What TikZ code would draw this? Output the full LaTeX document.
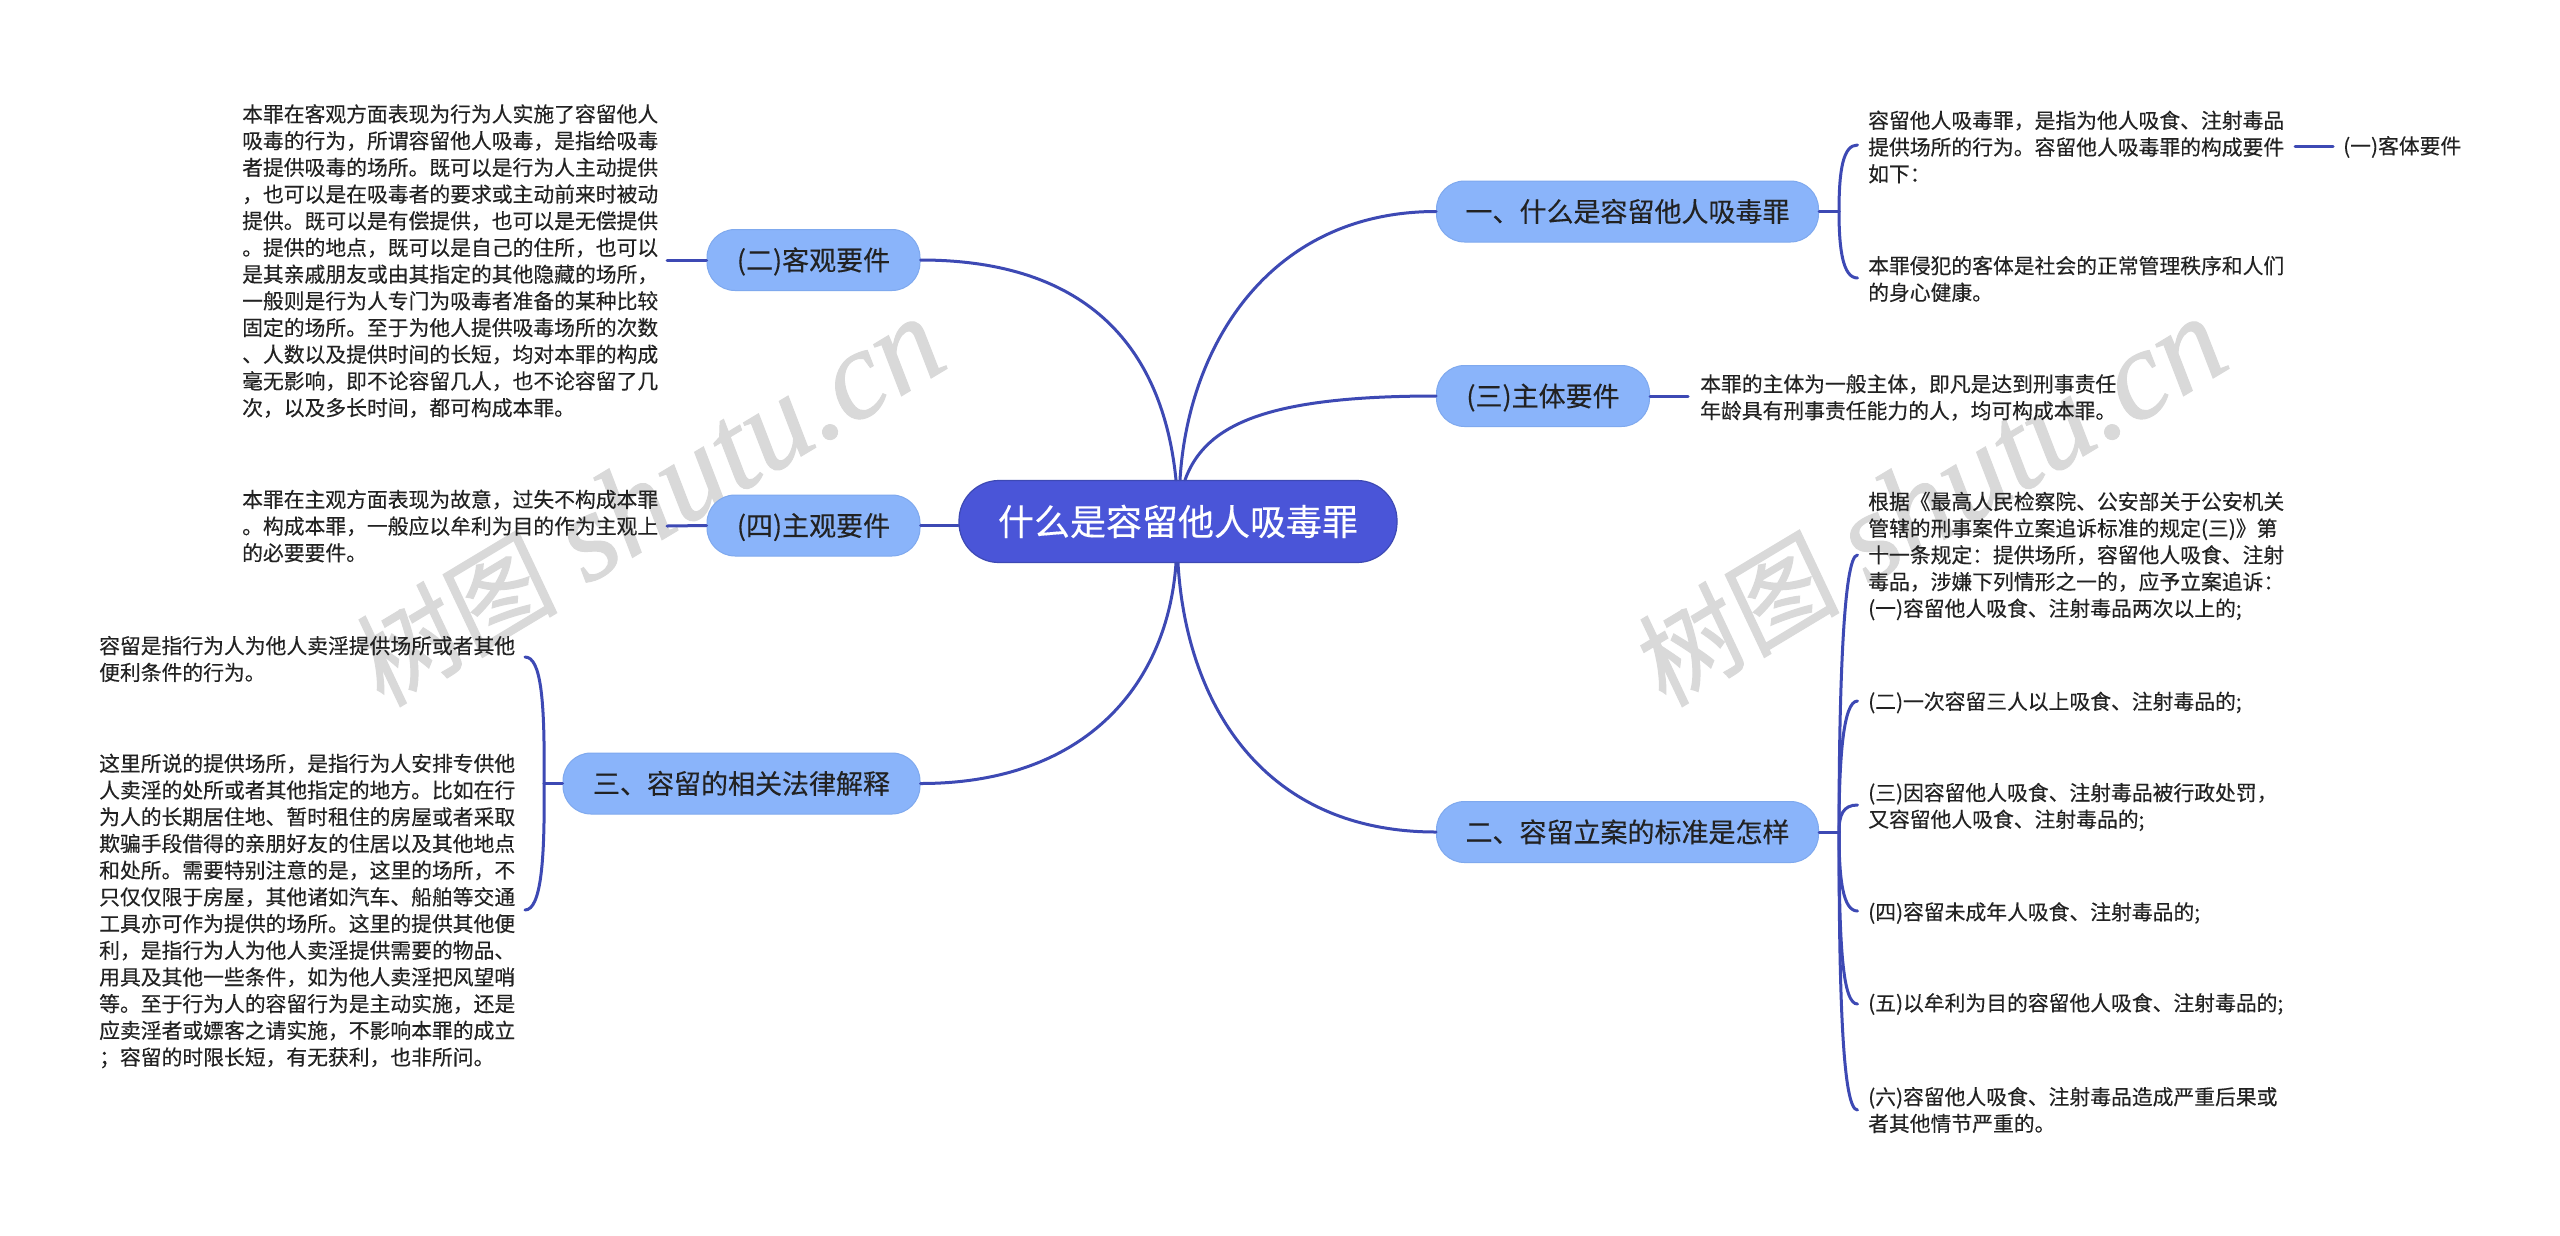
\documentclass[tikz,border=0pt]{standalone}
\usepackage{fontspec}
\newfontfamily\cjk[FakeBold=0.25]{Noto Sans CJK SC}
\newfontfamily\wmcjk[FakeSlant=0.1,FakeBold=1.2]{Noto Sans CJK SC}
\newfontfamily\wmlat[FakeBold=0.8]{Liberation Serif}
\definecolor{linec}{HTML}{3D49B4}
\definecolor{rootc}{HTML}{4A55D8}
\definecolor{branchc}{HTML}{8AB4FA}
\definecolor{branchb}{HTML}{7FA9EE}
\definecolor{textc}{HTML}{222222}
\definecolor{wmc}{HTML}{D9D9D9}
\newcommand{\wmtext}{{\wmcjk\fontsize{104}{106}\selectfont 树图}\hspace{30pt}{\wmlat\itshape\fontsize{127}{130}\selectfont shutu.cn}}
\tikzset{
  x=1pt,y=-1pt,
  conn/.style={draw=linec,line width=3pt,line cap=round},
  rootbox/.style={rounded corners=40pt,fill=rootc,draw=linec,line width=1.2pt,minimum height=82pt,minimum width=438pt,inner sep=0pt,text=white,text height=32pt,text depth=4.6pt,font=\cjk\fontsize{36}{40}\selectfont},
  branch/.style={rounded corners=28pt,fill=branchc,draw=branchb,line width=1pt,minimum height=61pt,inner sep=0pt,text=textc,text height=24pt,text depth=3.5pt,font=\cjk\fontsize{27}{30}\selectfont},
  para/.style={anchor=west,inner sep=0pt,align=left,text=textc,font=\cjk\fontsize{20.8}{26.7}\selectfont},
  wm/.style={text=wmc,rotate=31,inner sep=0pt,anchor=base west}
}
\begin{document}
\begin{tikzpicture}
\useasboundingbox (0,0) rectangle (2560,1235);
\fill[white] (0,0) rectangle (2560,1235);
% watermarks
\node[wm] (wma) at (382,708) {\wmtext};
\node[wm] (wmb) at (1664,708) {\wmtext};
% branch nodes
\node[rootbox] (root) at (1178,521.5) {什么是容留他人吸毒罪};
\node[branch,minimum width=213pt] (n2) at (813.5,260) {(二)客观要件};
\node[branch,minimum width=213pt] (n4) at (813.5,525.5) {(四)主观要件};
\node[branch,minimum width=357pt] (n3) at (741.5,783.5) {三、容留的相关法律解释};
\node[branch,minimum width=382pt] (b1) at (1627.5,211.5) {一、什么是容留他人吸毒罪};
\node[branch,minimum width=213pt] (b3) at (1543,396) {(三)主体要件};
\node[branch,minimum width=382pt] (b2) at (1627.5,832) {二、容留立案的标准是怎样};
% text nodes
\node[para] (t2) at (242,261) {本罪在客观方面表现为行为人实施了容留他人\\吸毒的行为，所谓容留他人吸毒，是指给吸毒\\者提供吸毒的场所。既可以是行为人主动提供\\，也可以是在吸毒者的要求或主动前来时被动\\提供。既可以是有偿提供，也可以是无偿提供\\。提供的地点，既可以是自己的住所，也可以\\是其亲戚朋友或由其指定的其他隐藏的场所，\\一般则是行为人专门为吸毒者准备的某种比较\\固定的场所。至于为他人提供吸毒场所的次数\\、人数以及提供时间的长短，均对本罪的构成\\毫无影响，即不论容留几人，也不论容留了几\\次，以及多长时间，都可构成本罪。};
\node[para] (t4) at (242,526) {本罪在主观方面表现为故意，过失不构成本罪\\。构成本罪，一般应以牟利为目的作为主观上\\的必要要件。};
\node[para] (t3a) at (99,659) {容留是指行为人为他人卖淫提供场所或者其他\\便利条件的行为。};
\node[para] (t3b) at (99,911) {这里所说的提供场所，是指行为人安排专供他\\人卖淫的处所或者其他指定的地方。比如在行\\为人的长期居住地、暂时租住的房屋或者采取\\欺骗手段借得的亲朋好友的住居以及其他地点\\和处所。需要特别注意的是，这里的场所，不\\只仅仅限于房屋，其他诸如汽车、船舶等交通\\工具亦可作为提供的场所。这里的提供其他便\\利，是指行为人为他人卖淫提供需要的物品、\\用具及其他一些条件，如为他人卖淫把风望哨\\等。至于行为人的容留行为是主动实施，还是\\应卖淫者或嫖客之请实施，不影响本罪的成立\\；容留的时限长短，有无获利，也非所问。};
\node[para] (r1a) at (1868,147) {容留他人吸毒罪，是指为他人吸食、注射毒品\\提供场所的行为。容留他人吸毒罪的构成要件\\如下：};
\node[para] (r1b) at (1868,279) {本罪侵犯的客体是社会的正常管理秩序和人们\\的身心健康。};
\node[para] (r1c) at (2343,147) {(一)客体要件};
\node[para] (r3) at (1700,397.5) {本罪的主体为一般主体，即凡是达到刑事责任\\年龄具有刑事责任能力的人，均可构成本罪。};
\node[para] (s1) at (1868,556) {根据《最高人民检察院、公安部关于公安机关\\管辖的刑事案件立案追诉标准的规定(三)》第\\十一条规定：提供场所，容留他人吸食、注射\\毒品，涉嫌下列情形之一的，应予立案追诉：\\(一)容留他人吸食、注射毒品两次以上的;};
\node[para] (s2) at (1868,702.5) {(二)一次容留三人以上吸食、注射毒品的;};
\node[para] (s3) at (1868,807) {(三)因容留他人吸食、注射毒品被行政处罚，\\又容留他人吸食、注射毒品的;};
\node[para] (s4) at (1868,913) {(四)容留未成年人吸食、注射毒品的;};
\node[para] (s5) at (1868,1004) {(五)以牟利为目的容留他人吸食、注射毒品的;};
\node[para] (s6) at (1868,1110) {(六)容留他人吸食、注射毒品造成严重后果或\\者其他情节严重的。};
% free ends of the brackets
\coordinate (e2) at (667,260);
\coordinate (e4) at (667,526);
\coordinate (l3) at (544,783.5);
\coordinate (l3a) at (525,657);
\coordinate (l3b) at (525,910);
\coordinate (r1) at (1839,211.5);
\coordinate (r1e) at (1857.5,145);
\coordinate (r1f) at (1857.5,278);
\coordinate (e3) at (1688,396);
\coordinate (c1a) at (2295,146);
\coordinate (c1b) at (2333,146);
\coordinate (r2) at (1839,832);
\coordinate (s1e) at (1857.5,555);
\coordinate (s2e) at (1857.5,701);
\coordinate (s3e) at (1857.5,805);
\coordinate (s4e) at (1857.5,911);
\coordinate (s5e) at (1857.5,1004);
\coordinate (s6e) at (1857.5,1110);
% connectors
\draw[conn] (n2.west) -- (e2);
\draw[conn] (b3.east) -- (e3);
\draw[conn] (c1a) -- (c1b);
\draw[conn] (root.west |- n4) -- (n4.east);
\draw[conn] (n4.west) -- (e4);
\draw[conn] (n3.west) -- (l3);
\draw[conn] (l3) .. controls (545,700) and (541,657) .. (l3a);
\draw[conn] (l3) .. controls (545,860) and (541,910) .. (l3b);
\draw[conn] (b1.east) -- (r1);
\draw[conn] (r1) .. controls (1839,170) and (1843,145) .. (r1e);
\draw[conn] (r1) .. controls (1839,250) and (1843,278) .. (r1f);
\draw[conn] (b2.east) -- (r2);
\draw[conn] (r2) .. controls (1839,700) and (1843,555) .. (s1e);
\draw[conn] (r2) .. controls (1839,760) and (1843,701) .. (s2e);
\draw[conn] (r2) .. controls (1839,815) and (1843,805) .. (s3e);
\draw[conn] (r2) .. controls (1839,880) and (1843,911) .. (s4e);
\draw[conn] (r2) .. controls (1839,950) and (1843,1004) .. (s5e);
\draw[conn] (r2) .. controls (1839,1000) and (1843,1110) .. (s6e);
\draw[conn] ([xshift=-2pt]root.north) .. controls (1163,350) and (1090,260) .. (n2.east);
\draw[conn] ([xshift=2pt]root.north) .. controls (1188,345) and (1270,211.5) .. (b1.west);
\draw[conn] ([xshift=7pt]root.north) .. controls (1205,425) and (1265,396) .. (b3.west);
\draw[conn] ([xshift=-2pt]root.south) .. controls (1168,680) and (1090,783.5) .. (n3.east);
\draw[conn] (root.south) .. controls (1186,700) and (1260,832) .. (b2.west);
\end{tikzpicture}
\end{document}
